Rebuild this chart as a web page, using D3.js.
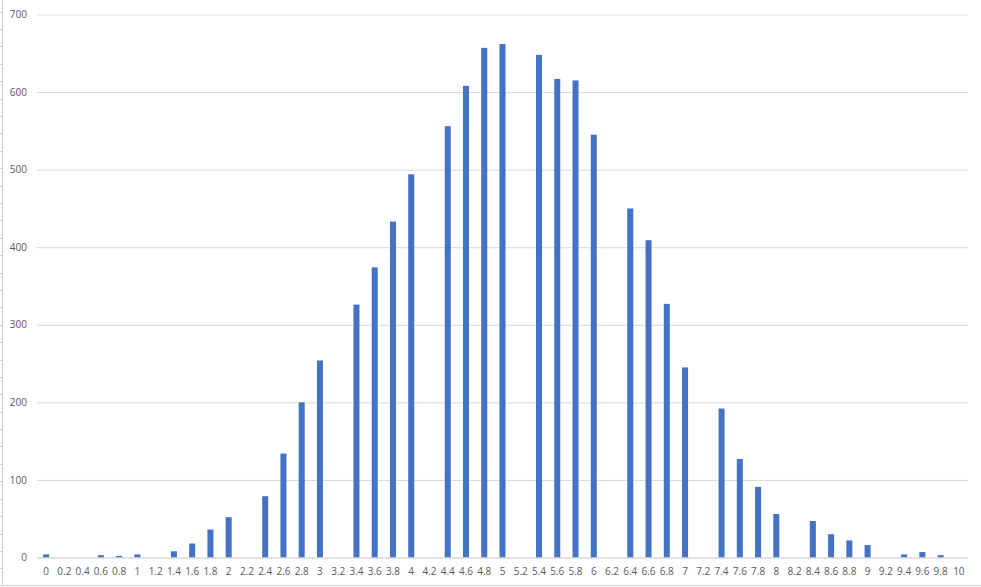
<!DOCTYPE html>
<html>
<head>
<meta charset="utf-8">
<script src="https://cdn.jsdelivr.net/npm/d3@7/dist/d3.min.js"></script>
<style>
  html, body { margin: 0; padding: 0; background: #fff; }
  svg { display: block; }
  text { font-family: "Open Sans", "Liberation Sans", sans-serif; fill: #595959; }
</style>
</head>
<body>
<div id="chart"></div>
<script>
const categories = ["0","0.2","0.4","0.6","0.8","1","1.2","1.4","1.6","1.8","2","2.2","2.4","2.6","2.8","3","3.2","3.4","3.6","3.8","4","4.2","4.4","4.6","4.8","5","5.2","5.4","5.6","5.8","6","6.2","6.4","6.6","6.8","7","7.2","7.4","7.6","7.8","8","8.2","8.4","8.6","8.8","9","9.2","9.4","9.6","9.8","10"];
const values = [4,0,0,3,2,4,0,8,18,36,52,0,79,134,200,254,0,326,374,433,494,0,556,608,657,662,0,648,617,615,545,0,450,409,327,245,0,192,127,91,56,0,47,30,22,16,0,4,7,3,0];
const yTicks = [0,100,200,300,400,500,600,700];

const W = 981, H = 587;
const mLeft = 37, mRight = 968, mTop = 14.5, mBottom = 557.5;

const svg = d3.select("#chart").append("svg").attr("width", W).attr("height", H);

// frame decoration (sheet edge)
svg.append("line").attr("x1", 2.5).attr("x2", 2.5).attr("y1", 0).attr("y2", 585.5)
  .attr("stroke", "#d0d0d0").attr("stroke-width", 1);
svg.append("line").attr("x1", 0).attr("x2", W).attr("y1", 585.5).attr("y2", 585.5)
  .attr("stroke", "#d0d0d0").attr("stroke-width", 1);
d3.range(11.5, 585, 17.4).forEach(yy => {
  svg.append("line").attr("x1", 0).attr("x2", 2.5).attr("y1", Math.round(yy) + 0.5).attr("y2", Math.round(yy) + 0.5)
    .attr("stroke", "#d0d0d0");
});

const x = d3.scaleBand().domain(categories).range([mLeft, mRight]).paddingInner(0.67).paddingOuter(0.335);
const y = d3.scaleLinear().domain([0, 700]).range([mBottom, mTop]);

// gridlines
const yAxis = d3.axisLeft(y).tickValues(yTicks).tickSize(-(mRight - mLeft)).tickPadding(10);
const gy = svg.append("g").attr("transform", `translate(${mLeft},0)`).call(yAxis);
gy.select(".domain").remove();
gy.selectAll(".tick line").attr("stroke", "#d9d9d9").attr("stroke-width", 1);
gy.selectAll(".tick text").attr("font-size", "10px").attr("fill", "#595959")
  .style("font-family", "'Open Sans', 'Liberation Sans', sans-serif");

// bars
svg.append("g").selectAll("rect").data(values).join("rect")
  .attr("x", (d, i) => x(categories[i]))
  .attr("width", x.bandwidth())
  .attr("y", d => y(d))
  .attr("height", d => y(0) - y(d))
  .attr("fill", "#4472C4");

// x axis
const xAxis = d3.axisBottom(x).tickSize(0).tickPadding(10);
const gx = svg.append("g").attr("transform", `translate(0,${mBottom})`).call(xAxis);
gx.select(".domain").attr("stroke", "#d9d9d9").attr("d", `M${mLeft},0.5H${mRight}`);
gx.selectAll(".tick text").attr("font-size", "10px").attr("fill", "#595959")
  .style("font-family", "'Open Sans', 'Liberation Sans', sans-serif");
</script>
</body>
</html>
